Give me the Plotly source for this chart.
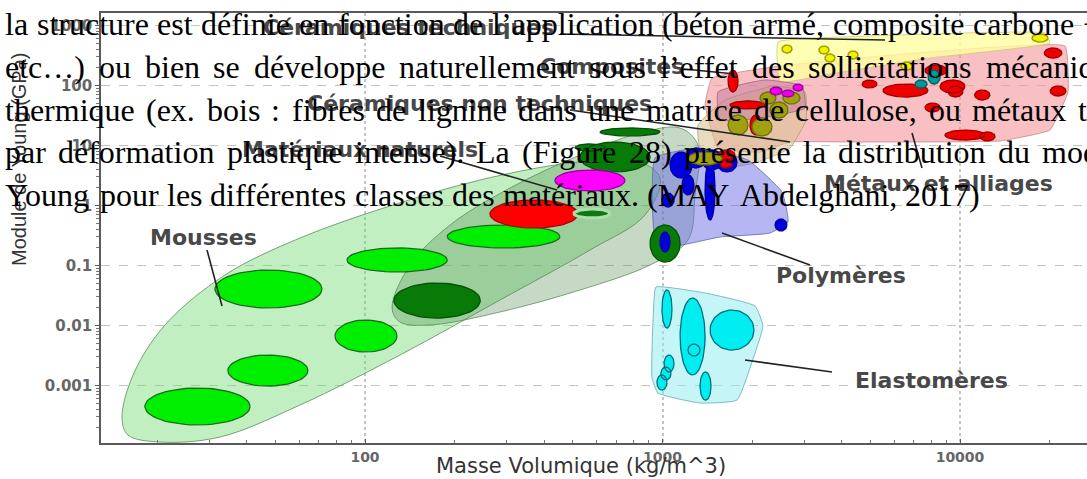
import numpy as np
import plotly.graph_objects as go

# ---------------------------------------------------------------
# Ashby-type map: Young's modulus (GPa) versus density (kg/m^3)
# Bubbles are given as property ranges (rho_min, rho_max, E_min, E_max)
# ---------------------------------------------------------------

foam_bubbles = [
    (18.2, 41.1, 0.00022, 0.00091),
    (34.6, 64.3, 0.00098, 0.00322),
    (79.3, 128.0, 0.00362, 0.01235),
    (31.3, 71.7, 0.0196, 0.0841),
    (87.0, 189.0, 0.078, 0.196),
    (189.0, 452.0, 0.196, 0.473),
]
natural_dark = [
    (125.0, 244.0, 0.0133, 0.0511),
    (528.0, 908.0, 3.62, 11.4),
    (617.0, 981.0, 14.4, 19.6),
    (508.0, 641.0, 8.1, 10.6),
    (908.0, 1146.0, 0.114, 0.473),
]
natural_red = [(263.0, 520.0, 0.422, 1.235)]
natural_small = [(504.0, 666.0, 0.619, 0.874)]
natural_magenta = [(435.0, 748.0, 1.745, 3.906)]

polymer_bubbles = [
    (1060.0, 1257.0, 2.87, 7.79),
    (1200.0, 1400.0, 4.22, 9.09),
    (1358.0, 1585.0, 3.91, 8.41),
    (1525.0, 1780.0, 3.62, 7.50),
    (1390.0, 1502.0, 0.573, 5.73),
    (996.0, 1093.0, 0.944, 1.616),
    (2389.0, 2621.0, 0.376, 0.596),
    (981.0, 1060.0, 0.168, 0.362),
    (1163.0, 1276.0, 1.496, 3.224),
]
elastomer_bubbles = [
    (996.0, 1076.0, 0.00909, 0.0391),
    (1146.0, 1390.0, 0.0015, 0.0287),
    (1445.0, 2030.0, 0.0039, 0.0181),
    (1218.0, 1337.0, 0.0031, 0.00492),
    (1012.0, 1093.0, 0.00168, 0.00322),
    (988.0, 1068.0, 0.00124, 0.00203),
    (958.0, 1035.0, 0.00084, 0.0015),
    (1337.0, 1456.0, 0.00057, 0.00168),
]
metal_bubbles = [
    (5510.0, 7810.0, 64.3, 106.0),
    (19200.0, 22000.0, 287.0, 422.0),
    (20100.0, 22700.0, 66.8, 98.1),
    (11200.0, 12600.0, 57.3, 84.1),
    (8900.0, 12130.0, 12.35, 18.1),
    (11670.0, 13110.0, 11.9, 16.8),
    (7630.0, 8570.0, 36.2, 51.1),
    (8570.0, 10390.0, 75.0, 123.5),
    (9110.0, 10230.0, 64.3, 98.1),
    (4690.0, 5260.0, 90.8, 123.5),
    (1661.0, 1794.0, 77.9, 181.0),
    (7630.0, 9040.0, 144.0, 220.0),
    (1968.0, 2160.0, 15.0, 32.2),
    (1537.0, 1752.0, 5.73, 8.41),
    (1561.0, 1713.0, 4.22, 5.73),
    (1686.0, 2211.0, 40.6, 55.2),
]
teal_bubbles = [
    (7810.0, 8570.0, 105.9, 181.0),
    (7060.0, 7750.0, 90.8, 123.5),
]
ceramic_bubbles = [
    (2522.0, 2725.0, 348.0, 473.0),
    (3357.0, 3628.0, 335.0, 455.0),
    (3518.0, 3800.0, 246.0, 335.0),
    (4203.0, 4541.0, 276.0, 376.0),
    (6335.0, 6950.0, 181.0, 246.0),
    (17460.0, 19760.0, 531.0, 722.0),
]
olive_bubbles = [
    (1661.0, 1938.0, 15.0, 32.2),
    (1999.0, 2334.0, 14.4, 28.7),
    (2298.0, 2641.0, 28.7, 53.1),
    (2127.0, 2407.0, 49.2, 77.9),
    (2541.0, 2899.0, 49.2, 77.9),
    (1218.0, 1585.0, 4.73, 7.79),
]
composite_bubbles = [
    (2298.0, 2522.0, 69.5, 94.4),
    (2522.0, 2767.0, 64.3, 84.1),
    (2747.0, 2967.0, 81.0, 105.9),
]

# ---- class envelopes (boundary points: density, modulus) ----
foam_env_rho = [15.25, 16.61, 21.27, 33.83, 60.47, 121.3, 243.6, 488.9, 808.5,
                980.8, 873.5, 570.6, 284.3, 131.1, 60.47, 32.55, 20.46, 15.97]
foam_env_E = [0.000287, 0.001496, 0.0102, 0.0695, 0.2872, 0.981, 2.661, 5.108, 5.73,
              2.873, 0.6945, 0.1813, 0.0266, 0.003224, 0.000473, 0.0001386, 0.0001143, 0.0001496]

natural_env_rho = [123.3, 141.7, 193.1, 307.2, 528.1, 840.3, 1145.5, 1316.0,
                   1286.0, 1218.0, 907.8, 528.1, 284.3, 165.4, 131.1]
natural_env_E = [0.01957, 0.1019, 0.4732, 1.957, 6.944, 16.16, 19.57, 10.19,
                 1.496, 0.2661, 0.1019, 0.03905, 0.01679, 0.0102, 0.01144]

polymer_env_rho = [943.6, 1337.0, 1938.0, 2522.0, 2641.0, 2298.0, 1561.0, 1043.0, 943.6]
polymer_env_E = [6.19, 9.085, 5.73, 1.679, 0.5309, 0.348, 0.2985, 0.2033, 0.2872]

elastomer_env_rho = [950.9, 1390.0, 2046.0, 2176.0, 1999.0, 1780.0, 1337.0, 965.8, 921.9, 936.3]
elastomer_env_E = [0.04382, 0.0348, 0.02113, 0.00981, 0.002464, 0.000573, 0.000511,
                   0.00075, 0.001334, 0.0266]

metal_env_rho = [1467.0, 2483.0, 5384.0, 22540.0, 23070.0, 20070.0, 13630.0,
                 4268.0, 2683.0, 2127.0, 1537.0, 1390.0]
metal_env_E = [133.4, 211.3, 310.2, 455.2, 77.9, 18.13, 11.89, 11.44, 11.44, 7.79, 9.085, 47.3]

ceramic_env_rho = [2444.0, 4983.0, 19310.0, 20070.0, 7929.0, 3656.0, 2483.0]
ceramic_env_E = [530.9, 668.3, 749.9, 510.9, 287.2, 155.5, 114.4]

nontech_env_rho = [1316.0, 1623.0, 2389.0, 3013.0, 3036.0, 2683.0, 2046.0, 1501.0, 1337.0]
nontech_env_E = [21.96, 57.3, 98.1, 77.9, 26.6, 9.085, 5.108, 4.217, 8.414]

composite_env_rho = [1537.0, 2211.0, 2944.0, 3013.0, 2127.0, 1561.0]
composite_env_E = [77.9, 123.5, 98.1, 42.17, 28.73, 26.6]

# axis ticks
x_ticks = [100, 1000, 10000]
x_labels = ["100", "1000", "10000"]
y_ticks = [0.001, 0.01, 0.1, 1, 10, 100, 1000]
y_labels = ["0.001", "0.01", "0.1", "1", "10", "100", "1000"]

# ---------------------------------------------------------------
W, H = 1087, 479
ML, MR, MT, MB = 101, 0, 13, 36
PW, PH = W - ML - MR, H - MT - MB


def px(x):
    return (x - ML) / PW


def py(y):
    return (H - MB - y) / PH


fig = go.Figure()


def envelope(rho, E, fill, line, smoothing=1.0):
    fig.add_trace(go.Scatter(
        x=list(rho) + [rho[0]], y=list(E) + [E[0]], mode="lines", fill="toself",
        fillcolor=fill, line=dict(color=line, width=1, shape="spline", smoothing=smoothing),
        hoverinfo="skip", showlegend=False))


def bubbles(boxes, fill, line, width=1.3, n=60):
    t = np.linspace(0, 2 * np.pi, n)
    xs, ys = [], []
    for r0, r1, e0, e1 in boxes:
        cx, ax = (np.log10(r0) + np.log10(r1)) / 2, (np.log10(r1) - np.log10(r0)) / 2
        cy, ay = (np.log10(e0) + np.log10(e1)) / 2, (np.log10(e1) - np.log10(e0)) / 2
        xs += list(10 ** (cx + ax * np.cos(t))) + [None]
        ys += list(10 ** (cy + ay * np.sin(t))) + [None]
    fig.add_trace(go.Scatter(x=xs, y=ys, mode="lines", fill="toself", fillcolor=fill,
                             line=dict(color=line, width=width), hoverinfo="skip",
                             showlegend=False))


# envelopes
envelope(foam_env_rho, foam_env_E, "rgba(120,220,120,0.45)", "rgba(90,140,90,0.8)")
envelope(natural_env_rho, natural_env_E, "rgba(80,140,80,0.33)", "rgba(80,130,80,0.7)")
envelope(metal_env_rho, metal_env_E, "rgba(245,150,155,0.6)", "rgba(200,120,120,0.7)", 0.3)
envelope(ceramic_env_rho, ceramic_env_E, "rgba(255,255,160,0.8)", "rgba(200,200,120,0.8)", 0.3)
envelope(nontech_env_rho, nontech_env_E, "rgba(215,195,150,0.6)", "rgba(170,150,110,0.7)", 0.4)
envelope(composite_env_rho, composite_env_E, "rgba(190,110,150,0.45)", "rgba(150,90,120,0.7)", 0.4)
envelope(polymer_env_rho, polymer_env_E, "rgba(110,110,230,0.5)", "rgba(100,100,180,0.8)", 0.4)
envelope(elastomer_env_rho, elastomer_env_E, "rgba(140,235,240,0.5)", "rgba(100,170,180,0.8)", 0.4)

# bubbles
bubbles(foam_bubbles, "#00ee00", "#1d6b1d")
bubbles(natural_red, "#ff0000", "#b00000")
bubbles(natural_small, "#117711", "rgba(170,225,170,1)", width=3)
bubbles(natural_dark, "#087a08", "#045004")
bubbles(natural_magenta, "#ff00ff", "#990099")
bubbles(polymer_bubbles, "#0000dd", "#0000a0")
bubbles(elastomer_bubbles, "#00eef2", "#00707a")
bubbles(metal_bubbles, "#ee0000", "#a00000")
bubbles(teal_bubbles, "#009999", "#006060")
bubbles(ceramic_bubbles, "#f2f200", "#a0a000", width=1.5)
bubbles(olive_bubbles, "#a0a010", "#707000")
bubbles(composite_bubbles, "#ee00ee", "#990099")

# ---- class labels with leader lines ----
label_font = dict(family="DejaVu Sans", size=22, color="#484848", weight="bold")
labels = [
    ("Céramiques techniques", 408, 27),
    ("Composites", 612, 67),
    ("Céramiques non techniques", 479, 104),
    ("Matériaux naturels", 360, 149),
    ("Métaux et alliages", 938, 183),
    ("Polymères", 841, 275),
    ("Elastomères", 931, 380),
    ("Mousses", 203, 237),
]
leaders = [
    ((560, 34), (885, 40)),
    ((684, 69), (735, 74)),
    ((570, 110), (790, 142)),
    ((440, 156), (557, 190)),
    ((912, 133), (922, 168)),
    ((722, 233), (810, 265)),
    ((745, 360), (832, 372)),
    ((207, 250), (222, 306)),
]
for (x0, y0), (x1, y1) in leaders:
    fig.add_shape(type="line", xref="paper", yref="paper", x0=px(x0), y0=py(y0),
                  x1=px(x1), y1=py(y1), line=dict(color="#222222", width=1.6), layer="above")

annotations = []
for text, x, y in labels:
    annotations.append(dict(text=text, x=px(x), y=py(y), xref="paper", yref="paper",
                            showarrow=False, font=label_font, xanchor="center", yanchor="middle"))

# axis titles
annotations.append(dict(text="Masse Volumique (kg/m^3)", x=px(581), y=py(465.5), xref="paper",
                        yref="paper", showarrow=False, xanchor="center", yanchor="middle",
                        font=dict(family="DejaVu Sans", size=21, color="#333333")))
annotations.append(dict(text="Module de Young (GPa)", x=px(19), y=py(159), xref="paper",
                        yref="paper", showarrow=False, textangle=-90,
                        xanchor="center", yanchor="middle",
                        font=dict(family="Liberation Sans", size=20, color="#333333")))

# ---- body text of the page laid over the figure (justified lines) ----
TNR = {' ': 250, 'a': 444, 'b': 500, 'c': 444, 'd': 500, 'e': 444, 'f': 333, 'g': 500,
       'h': 500, 'i': 278, 'l': 278, 'm': 778, 'n': 500, 'o': 500, 'p': 500, 'q': 500,
       'r': 333, 's': 389, 't': 278, 'u': 500, 'v': 500, 'x': 500, 'y': 500, 'é': 444,
       'è': 444, 'A': 722, 'F': 556, 'L': 611, 'M': 889, 'Y': 722, '(': 333, ')': 333,
       '.': 250, ',': 250, ':': 278, '+': 564, '’': 333, '…': 1000, '0': 500, '1': 500,
       '2': 500, '7': 500, '8': 500}
BODY_SIZE = 32


def text_w(s):
    return sum(TNR.get(c, 500) for c in s) * BODY_SIZE / 1000.0


body_lines = [
    ("la structure est définie en fonction de l’application (béton armé, composite carbone +", 8.6),
    ("etc…) ou bien se développe naturellement sous l’effet des sollicitations mécaniq", 13.8),
    ("thermique (ex. bois : fibres de lignine dans une matrice de cellulose, ou métaux t", 11.5),
    ("par déformation plastique intense). La (Figure 28) présente la distribution du mod", 12.3),
    ("Young pour les différentes classes des matériaux. (MAY Abdelghani, 2017)", 8.0),
]
baselines = [35, 78, 120.5, 163, 206]
for (line, gap), base in zip(body_lines, baselines):
    x = 4.0
    for word in line.split(" "):
        if x < W:
            annotations.append(dict(text=word, x=px(x), y=py(base - 10.8), xref="paper",
                                    yref="paper", showarrow=False, xanchor="left",
                                    yanchor="middle", borderpad=0,
                                    font=dict(family="Liberation Serif", size=BODY_SIZE,
                                              color="#000000")))
        x += text_w(word) + gap

# ---------------------------------------------------------------
minor_x = [k * 10 ** d for d in range(1, 5) for k in range(2, 10)]
minor_y = [k * 10.0 ** d for d in range(-4, 4) for k in range(2, 10)]

fig.update_layout(
    width=W, height=H, margin=dict(l=ML, r=MR, t=MT, b=MB),
    paper_bgcolor="white", plot_bgcolor="white",
    showlegend=False, annotations=annotations,
    xaxis=dict(type="log", range=[1.1126, 4.4269], tickmode="array", tickvals=x_ticks,
               ticktext=x_labels, showgrid=True, gridcolor="#c4c4c4", griddash="dot",
               gridwidth=1.5, showline=True, linecolor="#5a5a5a", linewidth=1.5, mirror=True,
               ticks="inside", ticklen=4, tickcolor="#5a5a5a",
               minor=dict(tickvals=minor_x, ticks="inside", ticklen=3, tickcolor="#777777",
                          showgrid=False),
               tickfont=dict(family="DejaVu Sans", size=14, color="#666666", weight="bold"),
               zeroline=False),
    yaxis=dict(type="log", range=[-3.9583, 3.2083], tickmode="array", tickvals=y_ticks,
               ticktext=y_labels, showgrid=True, gridcolor="#c4c4c4", griddash="dash",
               gridwidth=1.2, showline=True, linecolor="#5a5a5a", linewidth=1.5, mirror=False,
               ticks="outside", ticklen=4, tickcolor="#5a5a5a",
               minor=dict(tickvals=minor_y, ticks="outside", ticklen=3, tickcolor="#777777",
                          showgrid=False),
               tickfont=dict(family="DejaVu Sans", size=15, color="#666666", weight="bold"),
               zeroline=False),
)

fig.write_html("out.html")
